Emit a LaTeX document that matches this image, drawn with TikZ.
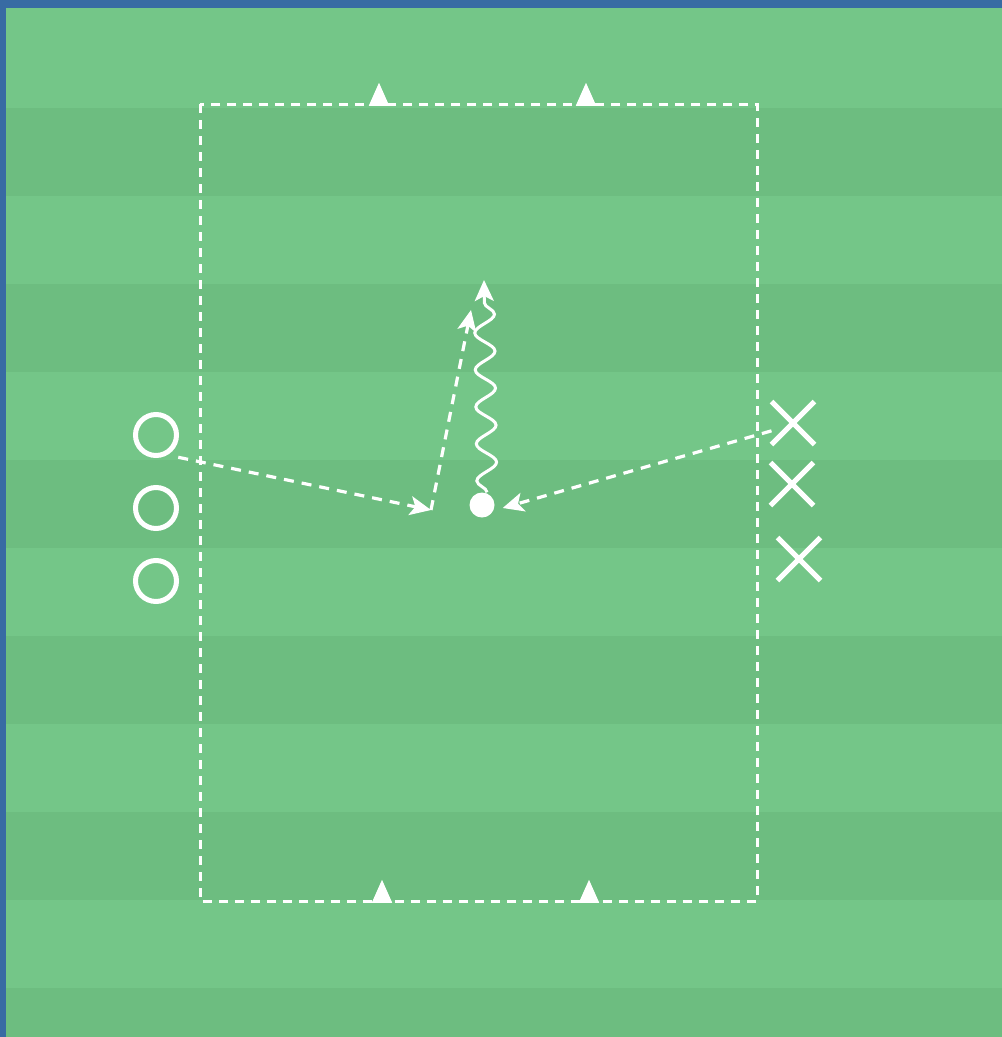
\documentclass[tikz,border=0pt]{standalone}
\usepackage{tikz}
\usetikzlibrary{arrows.meta, positioning, shapes.geometric, shapes.misc, decorations.pathmorphing}
\definecolor{pitchlight}{RGB}{116,198,136}
\definecolor{pitchdark}{RGB}{109,189,128}
\definecolor{frameblue}{RGB}{56,107,163}
\tikzset{player/.style={circle,draw=white,line width=5pt,minimum size=41pt,inner sep=0pt},opponent/.style={cross out,draw=white,line width=5pt,minimum size=38pt,inner sep=0pt},cone/.style={isosceles triangle,isosceles triangle apex angle=48,shape border rotate=90,fill=white,minimum height=23pt,inner sep=0pt,anchor=lower side},ball/.style={circle,fill=white,minimum size=25pt,inner sep=0pt},pass/.style={white,line width=3.2pt,dash pattern=on 10pt off 8pt,-{Stealth[length=21pt,width=19pt,inset=5pt]}},dribble/.style={white,line width=3pt,decorate,decoration={snake,amplitude=10pt,segment length=37pt,post length=16pt},-{Stealth[length=21pt,width=19pt,inset=5pt]}}}

\begin{document}
\begin{tikzpicture}[x=1pt,y=-1pt]
\useasboundingbox (0,0) rectangle (1002,1037);
% pitch
\fill[frameblue] (0,0) rectangle (1002,1037);
\fill[pitchlight] (6,8) rectangle (1002,1037);
\foreach \y in {108,284,460,636,812,988}
  \fill[pitchdark] (6,\y) rectangle (1002,{min(\y+88,1037)});
\draw[white,line width=3pt,dash pattern=on 9pt off 7pt] (200,104) rectangle (757,901);
% cones
\node[cone] (c1) at (379,106) {};
\node[cone] (c2) at (586,106) {};
\node[cone] (c3) at (382,903) {};
\node[cone] (c4) at (589,903) {};
% players
\node[player] (o1) at (156,435) {};
\node[player, below=27pt of o1] (o2) {};
\node[player, below=27pt of o2] (o3) {};
\node[opponent] (x1) at (793,423) {};
\node[opponent] (x2) at (792,484) {};
\node[opponent] (x3) at (799,559) {};
\node[ball] (b) at (482,505) {};
\coordinate (recv) at (431,510);
\coordinate (shot) at (471,310);
\coordinate (run) at (484,280);
% moves
\draw[pass] ([shift={(6pt,-6pt)}]o1.south east) -- (recv);
\draw[pass] (recv) -- (shot);
\draw[pass] (x1.200) -- ([xshift=8pt,yshift=-3pt]b.east);
\draw[dribble] ([xshift=5pt]b.north) -- (run);
\end{tikzpicture}
\end{document}
